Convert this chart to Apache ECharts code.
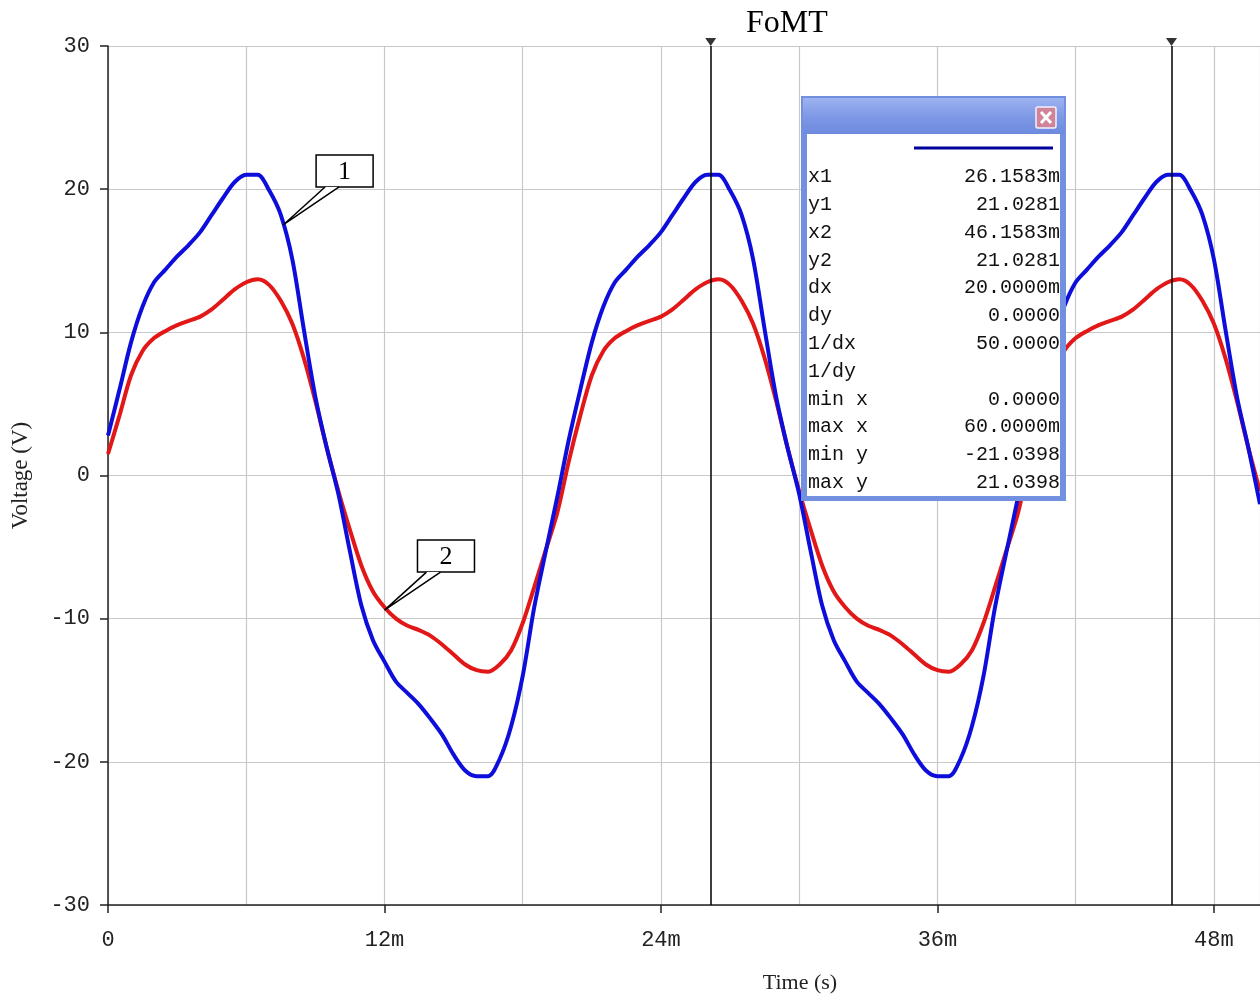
<!DOCTYPE html>
<html><head><meta charset="utf-8">
<script src="https://cdn.jsdelivr.net/npm/echarts@6/dist/echarts.min.js"></script>
<style>html,body{margin:0;padding:0;background:#fff}#c{width:1260px;height:994px}</style>
</head><body><div id="c"></div>
<script>
// time in ms
const timeMs = [0,0.5,1,1.5,2,2.5,3,3.5,4,4.5,5,5.5,6,6.5,7,7.5,8,8.5,9,9.5,
10,10.5,11,11.5,12,12.5,13,13.5,14,14.5,15,15.5,16,16.5,17,17.5,18,18.5,19,19.5,
20,20.5,21,21.5,22,22.5,23,23.5,24,24.5,25,25.5,26,26.5,27,27.5,28,28.5,29,29.5,
30,30.5,31,31.5,32,32.5,33,33.5,34,34.5,35,35.5,36,36.5,37,37.5,38,38.5,39,39.5,
40,40.5,41,41.5,42,42.5,43,43.5,44,44.5,45,45.5,46,46.5,47,47.5,48,48.5,49,49.5,50];
// curve 1 (blue), volts
const curve1 = [2.8,6.0,9.3,11.8,13.5,14.4,15.3,16.1,17.0,18.2,19.4,20.5,21.0,21.0,19.9,18.2,15.1,10.2,5.5,1.9,
-1.3,-5.3,-9.1,-11.5,-13.0,-14.4,-15.2,-16.0,-17.0,-18.1,-19.5,-20.6,-21.0,-21.0,-19.8,-17.5,-14.0,-9.2,-5.3,-1.5,
2.5,6.0,9.3,11.8,13.5,14.4,15.3,16.1,17.0,18.2,19.4,20.5,21.0,21.0,19.9,18.2,15.1,10.2,5.5,1.9,
-1.3,-5.3,-9.1,-11.5,-13.0,-14.4,-15.2,-16.0,-17.0,-18.1,-19.5,-20.6,-21.0,-21.0,-19.8,-17.5,-14.0,-9.2,-5.3,-1.5,
2.5,6.0,9.3,11.8,13.5,14.4,15.3,16.1,17.0,18.2,19.4,20.5,21.0,21.0,19.9,18.2,15.1,10.2,5.5,1.9,-2.0];
// curve 2 (red), volts
const curve2 = [1.5,4.2,7.0,8.7,9.6,10.1,10.5,10.8,11.1,11.6,12.3,13.0,13.5,13.7,13.3,12.2,10.6,8.2,5.2,1.9,
-1.1,-3.8,-6.3,-8.1,-9.2,-10.0,-10.5,-10.8,-11.2,-11.8,-12.5,-13.2,-13.6,-13.7,-13.2,-12.2,-10.3,-7.8,-5.2,-2.6,
1.0,4.2,7.0,8.7,9.6,10.1,10.5,10.8,11.1,11.6,12.3,13.0,13.5,13.7,13.3,12.2,10.6,8.2,5.2,1.9,
-1.1,-3.8,-6.3,-8.1,-9.2,-10.0,-10.5,-10.8,-11.2,-11.8,-12.5,-13.2,-13.6,-13.7,-13.2,-12.2,-10.3,-7.8,-5.2,-2.6,
1.0,4.2,7.0,8.7,9.6,10.1,10.5,10.8,11.1,11.6,12.3,13.0,13.5,13.7,13.3,12.2,10.6,8.2,5.2,1.9,-1.1];
const xTickLabels = [0,12,24,36,48];
const cursorX = [26.1583, 46.1583];
const readoutLabels = ['x1','y1','x2','y2','dx','dy','1/dx','1/dy','min x','max x','min y','max y'];
const readoutValues = ['26.1583m','21.0281','46.1583m','21.0281','20.0000m','0.0000','50.0000','','0.0000','60.0000m','-21.0398','21.0398'];
const callouts = [{text:'1', at:[7.6,17.5]}, {text:'2', at:[12.0,-9.4]}];

const chart = echarts.init(document.getElementById('c'), null, {renderer:'canvas'});
const AX = '#222';
const monoFont = 'Liberation Mono';

function infoBox(){
  const X0 = 801, Y0 = 96, Z = 100;
  const els = [];
  els.push({type:'rect', z:Z, shape:{x:X0, y:Y0, width:265, height:405}, style:{fill:'#7290e0'}});
  els.push({type:'rect', z:Z, shape:{x:X0+2, y:Y0+2, width:261, height:36},
    style:{fill:{type:'linear',x:0,y:0,x2:0,y2:1,colorStops:[{offset:0,color:'#9db3f0'},{offset:0.5,color:'#7f99e6'},{offset:1,color:'#6d8ade'}]}}});
  els.push({type:'rect', z:Z, shape:{x:X0+6, y:Y0+38, width:253, height:362}, style:{fill:'#ffffff'}});
  els.push({type:'rect', z:Z+1, shape:{x:X0+235, y:Y0+11, width:20, height:21, r:2}, style:{fill:'#d0849a', stroke:'#f2f2ff', lineWidth:1.5}});
  els.push({type:'line', z:Z+2, shape:{x1:X0+240, y1:Y0+16, x2:X0+250, y2:Y0+27}, style:{stroke:'#ffffff', lineWidth:3}});
  els.push({type:'line', z:Z+2, shape:{x1:X0+250, y1:Y0+16, x2:X0+240, y2:Y0+27}, style:{stroke:'#ffffff', lineWidth:3}});
  els.push({type:'line', z:Z+1, shape:{x1:X0+113, y1:Y0+52, x2:X0+252, y2:Y0+52}, style:{stroke:'#00009c', lineWidth:3}});
  readoutLabels.forEach((lab,i)=>{
    const y = Y0 + 81 + i*27.8;
    els.push({type:'text', z:Z+1, style:{x:X0+7, y:y, text:lab, fontFamily:monoFont, fontSize:20, fill:'#111', align:'left', verticalAlign:'middle'}});
    els.push({type:'text', z:Z+1, style:{x:X0+259, y:y, text:readoutValues[i], fontFamily:monoFont, fontSize:20, fill:'#111', align:'right', verticalAlign:'middle'}});
  });
  return els;
}

const option = {
  animation:false,
  backgroundColor:'#ffffff',
  title:{text:'FoMT', left:741, top:3, textStyle:{fontFamily:'Liberation Serif', fontSize:32, fontWeight:'normal', color:'#000'}},
  grid:{left:108, top:46, width:1154, height:859, containLabel:false},
  xAxis:[
    {type:'value', min:0, max:50, interval:12,
     axisLine:{show:true, onZero:false, lineStyle:{color:AX, width:1.5}},
     axisTick:{show:true, length:8, lineStyle:{color:AX, width:1.5}},
     axisLabel:{margin:24, fontFamily:monoFont, fontSize:22, color:AX, showMaxLabel:false,
       formatter:v => xTickLabels.includes(v) ? (v===0 ? '0' : v+'m') : ''},
     splitLine:{show:false}},
    {type:'value', min:0, max:50, interval:6, position:'bottom',
     axisLine:{show:false}, axisTick:{show:false}, axisLabel:{show:false},
     splitLine:{show:true, lineStyle:{color:'#c8c8c8', width:1.2}}}
  ],
  yAxis:{type:'value', min:-30, max:30, interval:10,
    axisLine:{show:true, onZero:false, lineStyle:{color:AX, width:1.5}},
    axisTick:{show:true, length:8, lineStyle:{color:AX, width:1.5}},
    axisLabel:{margin:18, fontFamily:monoFont, fontSize:22, color:AX},
    splitLine:{show:true, lineStyle:{color:'#c8c8c8', width:1.2}},
    name:'Voltage (V)', nameLocation:'middle', nameGap:76,
    nameTextStyle:{fontFamily:'Liberation Serif', fontSize:23, color:AX}},
  series:[
    {type:'line', name:'1', xAxisIndex:0, data:timeMs.map((t,i)=>[t,curve1[i]]), showSymbol:false, smooth:0.3,
     lineStyle:{color:'#0d0ddc', width:4}, itemStyle:{color:'#0d0ddc'}, z:3,
     markLine:{silent:true, symbol:'none', label:{show:false}, animation:false,
       lineStyle:{color:'#000', width:1.5, type:'solid'}, data:cursorX.map(x=>({xAxis:x}))}},
    {type:'line', name:'2', xAxisIndex:0, data:timeMs.map((t,i)=>[t,curve2[i]]), showSymbol:false, smooth:0.3,
     lineStyle:{color:'#e21818', width:4}, itemStyle:{color:'#e21818'}, z:2},
    {type:'scatter', xAxisIndex:0, data:cursorX.map(x=>[x,30]), symbol:'triangle', symbolRotate:180,
     symbolSize:[11,8], symbolOffset:[0,-4], itemStyle:{color:'#000'}, clip:false, silent:true, z:5}
  ],
  graphic:[]
};
chart.setOption(option);

const g = [];
g.push({type:'text', style:{x:800, y:983, text:'Time (s)', fontFamily:'Liberation Serif', fontSize:22, fill:AX, align:'center', verticalAlign:'middle'}});
callouts.forEach(c=>{
  const p = chart.convertToPixel({seriesIndex:0}, c.at);
  const bx = p[0]+33, by = p[1]-70, bw = 57, bh = 32;
  g.push({type:'rect', z:50, shape:{x:bx, y:by, width:bw, height:bh}, style:{fill:'#fff', stroke:'#000', lineWidth:1.5}});
  g.push({type:'polygon', z:51, shape:{points:[[p[0],p[1]],[p[0]+42,by+bh],[p[0]+56,by+bh]]}, style:{fill:'#fff'}});
  g.push({type:'polyline', z:52, shape:{points:[[p[0]+42,by+bh],[p[0],p[1]],[p[0]+56,by+bh]]}, style:{stroke:'#000', lineWidth:1.5, fill:null}});
  g.push({type:'text', z:53, style:{x:bx+bw/2, y:by+bh/2+1, text:c.text, fontFamily:'Liberation Serif', fontSize:26, fill:'#000', align:'center', verticalAlign:'middle'}});
});
infoBox().forEach(e=>g.push(e));
chart.setOption({graphic:g});
</script>
</body></html>
